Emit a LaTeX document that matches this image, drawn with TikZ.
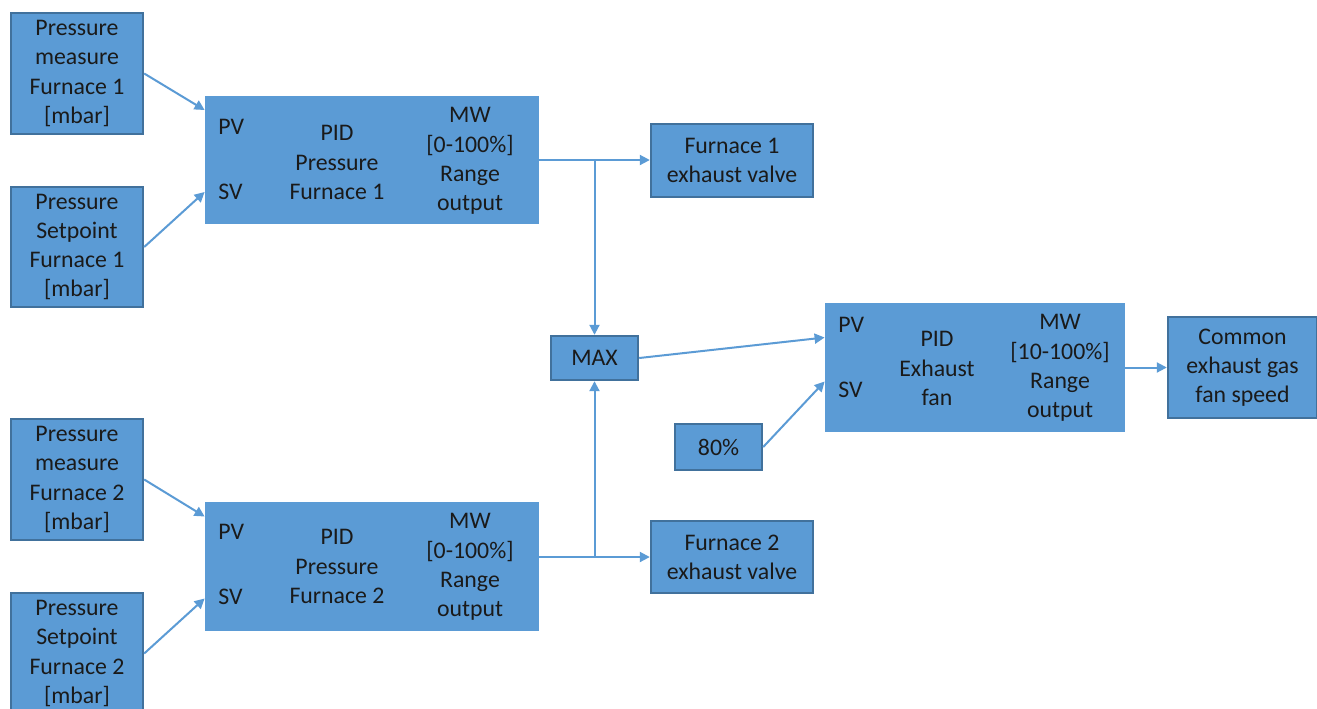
\documentclass[tikz,border=0pt]{standalone}
\usepackage{fontspec}
\setmainfont{Carlito}
\usetikzlibrary{arrows.meta,calc}
\definecolor{boxfill}{HTML}{5B9BD5}
\definecolor{boxline}{HTML}{41719C}
\definecolor{connc}{HTML}{5B9BD5}
\definecolor{txt}{HTML}{1A1A1A}
\tikzset{
  box/.style={draw=boxline, line width=1.2pt, fill=boxfill, align=center, inner sep=0pt,
    text=txt, font=\fontsize{11.9}{14.6}\selectfont},
  pidbox/.style={fill=boxfill, draw=none, inner sep=0pt},
  lbl/.style={align=center, inner sep=0pt, text=txt, font=\fontsize{11.9}{14.6}\selectfont},
  conn/.style={draw=connc, line width=1pt, -{Triangle[length=5pt,width=5pt]}},
}
\begin{document}
\begin{tikzpicture}[x=0.5pt,y=-0.5pt]
\clip (0,0) rectangle (1317,708);
\fill[white] (0,0) rectangle (1317,708);

% input boxes
\node[box, minimum width=66pt, minimum height=60.5pt] (A1) at (77,73.5) {Pressure\\measure\\Furnace 1\\{}[mbar]};
\node[box, minimum width=66pt, minimum height=60pt] (A2) at (77,247) {Pressure\\Setpoint\\Furnace 1\\{}[mbar]};
\node[box, minimum width=66pt, minimum height=60.5pt] (A3) at (77,479.5) {Pressure\\measure\\Furnace 2\\{}[mbar]};
\node[box, minimum width=66pt, minimum height=60.5pt] (A4) at (77,653.5) {Pressure\\Setpoint\\Furnace 2\\{}[mbar]};

% PID blocks
\node[pidbox, minimum width=167pt, minimum height=64pt] (PID1) at (372,160) {};
\node[pidbox, minimum width=167pt, minimum height=64.5pt] (PID2) at (372,566.5) {};
\node[pidbox, minimum width=150pt, minimum height=64.5pt] (PID3) at (975,367.5) {};

\node[lbl, anchor=west] (PV1) at (218,127) {PV};
\node[lbl, anchor=west] (SV1) at (218,192) {SV};
\node[lbl] (T1) at (337,162.5) {PID\\Pressure\\Furnace 1};
\node[lbl] (M1) at (470,161) {MW\\{}[0-100\%]\\Range\\output};

\node[lbl, anchor=west] (PV2) at (218,532) {PV};
\node[lbl, anchor=west] (SV2) at (218,597) {SV};
\node[lbl] (T2) at (337,566.5) {PID\\Pressure\\Furnace 2};
\node[lbl] (M2) at (470,567) {MW\\{}[0-100\%]\\Range\\output};

\node[lbl, anchor=west] (PV3) at (838,325) {PV};
\node[lbl, anchor=west] (SV3) at (838,390) {SV};
\node[lbl] (T3) at (937,368.5) {PID\\Exhaust\\fan};
\node[lbl] (M3) at (1060,368) {MW\\{}[10-100\%]\\Range\\output};

% other boxes
\node[box, minimum width=81pt, minimum height=36.5pt] (V1) at (732,160.5) {Furnace 1\\exhaust valve};
\node[box, minimum width=81pt, minimum height=36pt] (V2) at (732,557) {Furnace 2\\exhaust valve};
\node[box, minimum width=43.5pt, minimum height=22pt] (MAX) at (594.5,358) {MAX};
\node[box, minimum width=43.5pt, minimum height=23pt] (P80) at (718.5,447) {80\%};
\node[box, minimum width=74.5pt, minimum height=50.5pt] (CF) at (1242.5,367.5) {Common\\exhaust gas\\fan speed};

% connectors
\draw[conn] (A1.east) -- ([yshift=25pt]PID1.west);
\draw[conn] (A2.east) -- ([yshift=-16pt]PID1.west);
\draw[conn] (A3.east) -- ([yshift=25pt]PID2.west);
\draw[conn] (A4.east) -- ([yshift=-16pt]PID2.west);

\draw[conn] (PID1.east) -- (PID1.east -| V1.west);
\coordinate (J1) at (MAX.north |- PID1.east);
\draw[conn] (J1) -- (MAX.north);

\draw[conn] (V2.west -| PID2.east) -- (V2.west);
\coordinate (J2) at (MAX.south |- V2.west);
\draw[conn] (J2) -- (MAX.south);

\draw[conn] (MAX.east) -- ([yshift=15pt]PID3.west);
\draw[conn] (P80.east) -- ([yshift=-7pt]PID3.west);
\draw[conn] (PID3.east) -- (CF.west);
\end{tikzpicture}
\end{document}
